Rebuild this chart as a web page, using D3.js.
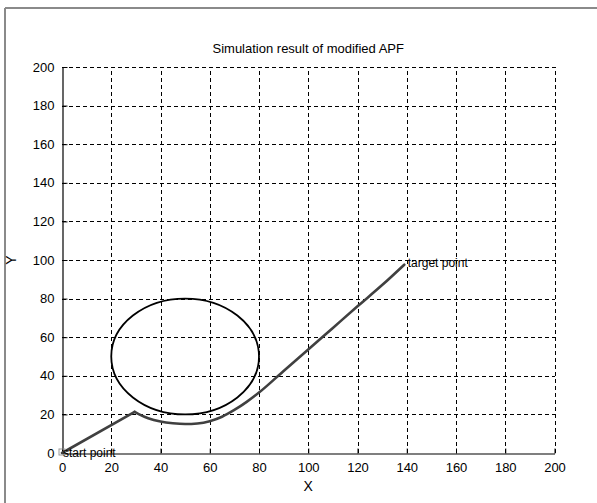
<!DOCTYPE html>
<html>
<head>
<meta charset="utf-8">
<script src="https://cdn.jsdelivr.net/npm/d3@7"></script>
<style>
  html, body { margin: 0; padding: 0; background: #fff; }
  svg { display: block; }
  text { font-family: "Liberation Sans", Arial, sans-serif; fill: #000; }
</style>
</head>
<body>
<svg id="chart" width="597" height="503"></svg>
<script>
// Axis ticks
const xTicks = [0, 20, 40, 60, 80, 100, 120, 140, 160, 180, 200];
const yTicks = [0, 20, 40, 60, 80, 100, 120, 140, 160, 180, 200];

// Obstacle: circle centre and radius (data units)
const obstacleCenter = [50, 50];
const obstacleRadius = 30;

// Planned path: straight approach to the deflection point, then the detour round the obstacle
const approachX = [0, 29.5];
const approachY = [0, 21.3];
const detourX = [29.5, 32, 35, 40, 45, 50, 55, 60, 65, 70, 75, 80, 90, 100, 110, 120, 130, 139];
const detourY = [21.3, 19.6, 18, 16.3, 15.4, 15, 15.3, 16.5, 18.8, 22.3, 26.5, 31.3, 42.5, 53.6, 64.8, 76, 87, 97.6];

// Annotations
const labels = [
  { text: "start point", x: 0, y: 0 },
  { text: "target point", x: 140, y: 98.5 }
];

const svg = d3.select("#chart");
const W = 597, H = 503;
const plotL = 62, plotR = 554.5, plotT = 67, plotB = 453;

// Figure frame
svg.append("line").attr("x1", 5).attr("y1", 8).attr("x2", 5).attr("y2", H)
  .attr("stroke", "#8a8a8a").attr("stroke-width", 2);
svg.append("line").attr("x1", 5).attr("y1", 8).attr("x2", W).attr("y2", 8)
  .attr("stroke", "#8a8a8a").attr("stroke-width", 2);

const x = d3.scaleLinear().domain([0, 200]).range([plotL, plotR]);
const y = d3.scaleLinear().domain([0, 200]).range([plotB, plotT]);

// Dashed grid
const grid = svg.append("g").attr("stroke", "#000").attr("stroke-width", 1)
  .attr("stroke-dasharray", "4,3").attr("shape-rendering", "crispEdges");
grid.selectAll("line.v").data(xTicks.slice(1)).join("line")
  .attr("x1", d => Math.round(x(d)) + 0.5).attr("x2", d => Math.round(x(d)) + 0.5)
  .attr("y1", plotB).attr("y2", plotT);
grid.selectAll("line.h").data(yTicks.slice(1)).join("line")
  .attr("y1", d => Math.round(y(d)) + 0.5).attr("y2", d => Math.round(y(d)) + 0.5)
  .attr("x1", plotL).attr("x2", plotR);

// Axes (ticks pointing inward)
const xAxis = d3.axisBottom(x).tickValues(xTicks).tickSizeInner(-5).tickSizeOuter(0).tickPadding(9);
const yAxis = d3.axisLeft(y).tickValues(yTicks).tickSizeInner(-5).tickSizeOuter(0).tickPadding(8);

const gx = svg.append("g").attr("transform", `translate(0,${Math.round(plotB) + 0.5})`).call(xAxis);
const gy = svg.append("g").attr("transform", `translate(${Math.round(plotL) + 0.5},0)`).call(yAxis);
[gx, gy].forEach(g => {
  g.select(".domain").attr("stroke", "#000").attr("stroke-width", 1.2);
  g.selectAll(".tick line").attr("stroke", "#000");
  g.selectAll(".tick text").attr("font-size", 13)
    .attr("font-family", "'Liberation Sans', Arial, sans-serif").attr("fill", "#000");
});

// Obstacle circle
svg.append("ellipse")
  .attr("cx", x(obstacleCenter[0])).attr("cy", y(obstacleCenter[1]))
  .attr("rx", x(obstacleCenter[0] + obstacleRadius) - x(obstacleCenter[0]))
  .attr("ry", y(obstacleCenter[1]) - y(obstacleCenter[1] + obstacleRadius))
  .attr("fill", "none").attr("stroke", "#000").attr("stroke-width", 1.8);

// Path
const approach = approachX.map((d, i) => [d, approachY[i]]);
const detour = detourX.map((d, i) => [d, detourY[i]]);
const pathG = svg.append("g").attr("fill", "none").attr("stroke", "#404040")
  .attr("stroke-width", 2.6).attr("stroke-linejoin", "round").attr("stroke-linecap", "round");
pathG.append("path").datum(approach)
  .attr("d", d3.line().x(d => x(d[0])).y(d => y(d[1])));
pathG.append("path").datum(detour)
  .attr("d", d3.line().x(d => x(d[0])).y(d => y(d[1])).curve(d3.curveMonotoneX));

// Start marker
svg.append("rect")
  .attr("x", x(0) - 3).attr("y", y(0) - 4).attr("width", 6).attr("height", 6)
  .attr("fill", "none").attr("stroke", "#9a9a9a").attr("stroke-width", 1);

// Annotations
svg.selectAll("text.note").data(labels).join("text")
  .attr("class", "note")
  .attr("x", d => x(d.x) + 1).attr("y", d => y(d.y))
  .attr("dy", "0.35em")
  .attr("font-size", 12)
  .text(d => d.text);

// Title and axis labels
svg.append("text").attr("x", (plotL + plotR) / 2).attr("y", 53)
  .attr("text-anchor", "middle").attr("font-size", 13)
  .text("Simulation result of modified APF");
svg.append("text").attr("x", (plotL + plotR) / 2).attr("y", 491)
  .attr("text-anchor", "middle").attr("font-size", 14).text("X");
svg.append("text").attr("transform", `translate(16,${(plotT + plotB) / 2}) rotate(-90)`)
  .attr("text-anchor", "middle").attr("font-size", 14).text("Y");
</script>
</body>
</html>
